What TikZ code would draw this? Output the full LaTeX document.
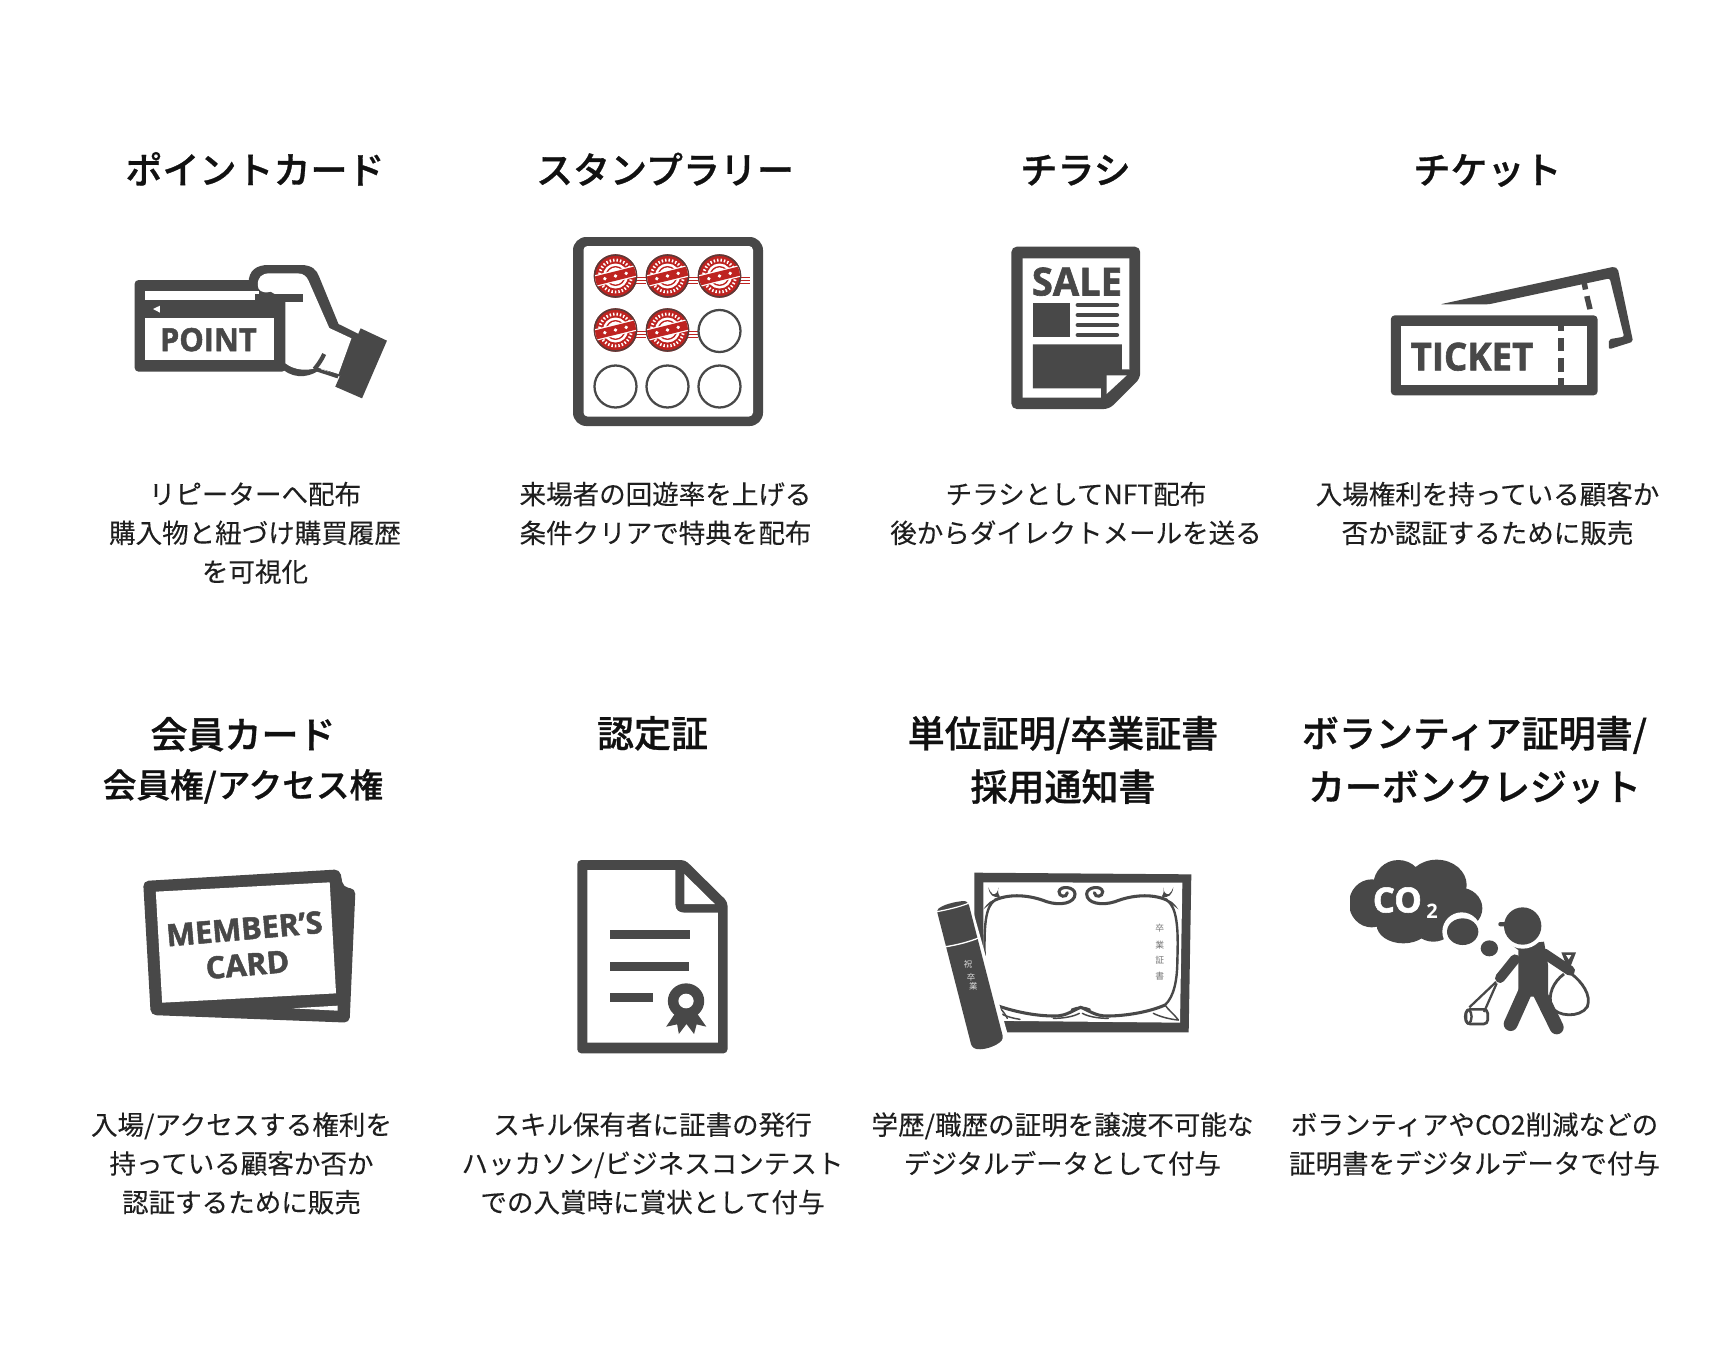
\documentclass[tikz,border=0pt]{standalone}
\usepackage{fontspec}
\usepackage{graphicx}
\newfontfamily\jp[FakeBold=0.12]{Noto Sans CJK JP}
\newfontfamily\jpplain{Noto Sans CJK JP}
\newfontfamily\jpm[FakeBold=0.8]{Noto Sans CJK JP Medium}
\newfontfamily\heavy[UprightFont=* Bold,FakeBold=1.6]{Open Sans}
\newfontfamily\iconbold[UprightFont=* Bold]{Open Sans}
\definecolor{icon}{HTML}{484848}
\definecolor{ink}{HTML}{111111}
\definecolor{body}{HTML}{1F1F1F}
\definecolor{stampred}{HTML}{BE2320}
\definecolor{stamprim}{HTML}{5A3A38}
\tikzset{
  ttl/.style={anchor=north,align=center,inner sep=0pt,text=ink,font=\jpm\fontsize{27.75}{38}\selectfont},
  ttlb/.style={ttl,font=\jpm\fontsize{27.75}{40}\selectfont},
  bodytext/.style={anchor=north,align=center,inner sep=0pt,text=body,font=\jp\fontsize{19.9}{29.1}\selectfont},
  wh/.style={fill=white,draw=none},
  dk/.style={fill=icon,draw=none},
  icontext/.style={inner sep=0pt,text=icon,font=\heavy},
}
\newcommand{\stampmark}[2]{%
  \begin{scope}[shift={(#1,#2)}]
    \foreach \yy in {1.5,4.5,7.5}{\draw[stampred,line width=0.9pt] (18,\yy) -- (30,\yy);}
    \fill[stampred] (0,0) circle (21.7);
    \draw[stamprim,line width=1.2pt] (0,0) circle (21);
    \draw[white,line width=2.2pt,dash pattern=on 1.1pt off 1.5pt] (0,0) circle (16);
    \fill[white] (0,0) circle (12.5);
    \draw[stampred,line width=1pt] (0,0) circle (9.3);
    \begin{scope}
      \clip (0,0) circle (20.5);
      \begin{scope}[rotate=14]
        \fill[white] (-24,-5.8) rectangle (24,5.8);
        \fill[stampred] (-24,-4.6) rectangle (24,4.6);
        \foreach \xx in {-11,0,11}{\fill[white] (\xx,0) circle (1.9);}
      \end{scope}
    \end{scope}
  \end{scope}}
\begin{document}
\begin{tikzpicture}[x=0.75pt,y=-0.75pt]
\path[use as bounding box,fill=white] (0,0) rectangle (1730,1350);

% titles row 1
\node[ttl] (t1) at (255,148) {\strut ポイントカード};
\node[ttl] (t2) at (665,148) {\strut スタンプラリー};
\node[ttl] (t3) at (1075.5,148) {\strut チラシ};
\node[ttl] (t4) at (1487.5,148) {\strut チケット};
% titles row 2
\node[ttl,font=\jpm\fontsize{27.75}{37}\selectfont] (t5) at (243,713.5) {\strut 会員カード\\{\fontsize{25.2}{37}\selectfont 会員権/アクセス権}};
\node[ttl] (t6) at (652.5,711.5) {\strut 認定証};
\node[ttlb] (t7) at (1063,709.7) {\strut 単位証明/卒業証書\\採用通知書};
\node[ttlb] (t8) at (1474.5,709.7) {\strut ボランティア証明書/\\カーボンクレジット};
% body row 1
\node[bodytext] (b1) at (255,481.5) {リピーターへ配布\\購入物と紐づけ購買履歴\\を可視化};
\node[bodytext] (b2) at (665.5,481.5) {来場者の回遊率を上げる\\条件クリアで特典を配布};
\node[bodytext] (b3) at (1076,481.5) {チラシとしてNFT配布\\後からダイレクトメールを送る};
\node[bodytext] (b4) at (1487.5,481.5) {入場権利を持っている顧客か\\否か認証するために販売};
% body row 2
\node[bodytext] (b5) at (241.5,1112) {入場/アクセスする権利を\\持っている顧客か否か\\認証するために販売};
\node[bodytext] (b6) at (652.5,1112) {スキル保有者に証書の発行\\ハッカソン/ビジネスコンテスト\\での入賞時に賞状として付与};
\node[bodytext] (b7) at (1062.5,1112) {学歴/職歴の証明を譲渡不可能な\\デジタルデータとして付与};
\node[bodytext] (b8) at (1474.5,1112) {ボランティアやCO2削減などの\\証明書をデジタルデータで付与};

% ---------- point card
\begin{scope}[shift={(100,220)},x=0.346pt,y=-0.25pt]
  \path[dk] (322,190) .. controls (322,150) and (340,135) .. (365,135) -- (435,135) .. controls (460,135) and (470,150) .. (475,170) -- (517,312) -- (565,345) -- (520,470) -- (480,445) .. controls (460,470) and (425,480) .. (398,450) -- (340,300) -- cycle;
  \path[dk,rounded corners=3pt] (75,180) -- (340,180) -- (400,240) -- (403,455) -- (75,455) -- cycle;
  \path[wh] (98,214) rectangle (345,240);
  \path[wh] (342,195) .. controls (342,172) and (350,160) .. (368,160) -- (428,160) .. controls (442,160) and (448,170) .. (452,182) -- (497,324) -- (545,355) -- (517,462) -- (470,442) .. controls (450,455) and (420,450) .. (402,430) -- (402,240) -- (370,215) .. controls (350,222) and (342,210) .. (342,195) -- cycle;
  \path[dk] (335,222) rectangle (440,245);
  \path[dk] (335,240) rectangle (402,295);
  \draw[icon,line width=3.2pt] (486,402) .. controls (478,425) and (472,435) .. (465,447);
  \draw[icon,line width=2.6pt] (465,447) -- (516,470);
  \path[wh] (115,267) -- (130,257) -- (130,278) -- cycle;
  \path[wh] (98,295) rectangle (377,420);
  \path[dk] (565,325) -- (622,362) -- (568,535) -- (510,500) -- cycle;
  \node[icontext] (pointlabel) at (235,359) {\fontsize{24}{24}\selectfont\scalebox{0.96}[1]{POINT}};
\end{scope}

% ---------- stamp board
\path[dk,rounded corners=10pt] (573,237) rectangle (763,426);
\path[wh,rounded corners=3pt] (583.5,246) rectangle (753,416.5);
\stampmark{615.5}{276}\stampmark{667.5}{276}\stampmark{719.5}{276}
\stampmark{615.5}{330}\stampmark{667.5}{330}
\foreach \cx/\cy in {719.5/331,615.5/386.5,667.5/386.5,719.5/386.5}{
  \draw[icon,line width=1.7pt] (\cx,\cy) circle (21);
}

% ---------- flyer
\begin{scope}[shift={(980,220)},x=0.3365pt,y=-0.25pt]
  \path[dk,rounded corners=4pt] (70,80) -- (357,80) -- (357,475) -- (288,567) -- (70,567) -- cycle;
  \path[wh] (95,115) -- (333,115) -- (333,448) -- (270,533) -- (95,533) -- cycle;
  \path[dk] (118,373) -- (316,373) -- (316,448) -- (333,448) -- (333,470) -- (270,535) -- (270,505) -- (118,505) -- cycle;
  \path[wh] (282,466) -- (327,466) -- (282,522) -- cycle;
  \path[dk] (118,248) rectangle (200,352);
  \foreach \ly in {255,285,315,345}{\draw[icon,line width=3.4pt,line cap=round] (218,\ly) -- (305,\ly);}
  \node[icontext] (salelabel) at (216,185) {\fontsize{28}{28}\selectfont\scalebox{1.02}[1.04]{SALE}};
\end{scope}

% ---------- ticket
\begin{scope}[shift={(978,220)},x=0.3365pt,y=-0.25pt]
  \path[dk,rounded corners=1.5pt] (1030,253) -- (1418,140) -- (1426,146) -- (1460,365) -- (1406,388) -- (1406,358) -- (1440,350) -- (1408,175) -- (1138,253) -- cycle;
  \path[dk] (1345,190) -- (1357,187) -- (1360,207) -- (1348,210) -- cycle;
  \path[dk] (1351,230) -- (1363,227) -- (1370,266) -- (1358,269) -- cycle;
  \path[dk,rounded corners=3pt] (920,286) rectangle (1381,526);
  \path[wh] (943,317) rectangle (1358,495);
  \foreach \da/\db in {317/333,355/392,415/455,475/495}{\path[dk] (1292,\da) rectangle (1307,\db);}
  \node[icontext] (ticketlabel) at (1101,410) {\fontsize{28}{28}\selectfont\scalebox{0.98}[1.03]{TICKET}};
\end{scope}

% ---------- member's card
\begin{scope}[shift={(119,840)},x=0.3173pt,y=-0.25pt]
  \path[dk,rounded corners=4pt] (57,123) -- (522,88) -- (530,142) -- (559,146) -- (545,548) -- (75,525) -- cycle;
  \path[wh] (87,155) -- (498,127) -- (513,460) -- (102,488) -- cycle;
  \path[wh] (410,505) -- (517,497) -- (517,512) -- cycle;
  \node[icontext,rotate=5,align=center,font=\heavy\fontsize{23}{27}\selectfont] (memberlabel) at (300,320) {MEMBER’S\\CARD};
\end{scope}

% ---------- certificate
\begin{scope}[shift={(117,840)},x=0.3173pt,y=-0.25pt]
  \path[dk,rounded corners=3pt] (1088,60) -- (1343,60) -- (1443,185) -- (1443,640) -- (1088,640) -- cycle;
  \path[wh] (1112,90) -- (1320,90) -- (1320,195) .. controls (1320,210) and (1328,218) .. (1342,218) -- (1420,218) -- (1420,608) -- (1112,608) -- cycle;
  \path[wh] (1341,102) -- (1413,192) -- (1341,192) -- cycle;
  \path[dk] (1165,270) rectangle (1355,297);
  \path[dk] (1165,365) rectangle (1353,392);
  \path[dk] (1165,460) rectangle (1267,487);
  \path[dk] (1322,515) -- (1298,560) -- (1324,553) -- (1328,582) -- (1346,552) -- (1364,582) -- (1370,553) -- (1393,560) -- (1368,515) -- cycle;
  \path[dk] (1345,483) ellipse [x radius=43,y radius=53];
  \path[wh] (1345,483) ellipse [x radius=18,y radius=22];
\end{scope}

% ---------- diploma
\begin{scope}[shift={(920,850)},x=0.25pt,y=-0.25pt]
  \path[dk] (163,68) -- (814,73) -- (806,547) -- (240,547) -- (163,400) -- cycle;
  \path[wh] (190,97) -- (787,98) -- (780,518) -- (190,512) -- cycle;
  \begin{scope}[icon,line width=2.3pt,line cap=round]
    \draw[line width=1.8pt] (194,330) .. controls (192,230) and (195,170) .. (225,150);
    \draw (225,150) .. controls (270,130) and (330,135) .. (380,155) .. controls (420,168) and (465,160) .. (465,132) .. controls (465,110) and (420,105) .. (417,125) .. controls (416,140) and (440,145) .. (442,128);
    \draw[line width=1.8pt] (772,330) .. controls (776,230) and (770,170) .. (740,150);
    \draw (740,150) .. controls (695,130) and (635,135) .. (585,155) .. controls (545,168) and (500,160) .. (500,132) .. controls (500,110) and (545,105) .. (548,125) .. controls (549,140) and (525,145) .. (523,128);
    \draw[line width=1.8pt] (772,330) .. controls (772,390) and (762,440) .. (735,465);
    \draw (735,465) .. controls (690,485) and (620,498) .. (560,498) .. controls (525,498) and (505,480) .. (482,472) .. controls (460,480) and (440,498) .. (405,498) .. controls (345,498) and (285,485) .. (235,468);
    \path[dk] (205,112) .. controls (208,135) and (220,145) .. (240,140) .. controls (233,130) and (233,120) .. (235,112) .. controls (235,125) and (228,135) .. (218,132) .. controls (212,128) and (208,120) .. (205,112) -- cycle;
    \path[dk] (760,112) .. controls (757,135) and (745,145) .. (725,140) .. controls (732,130) and (732,120) .. (730,112) .. controls (730,125) and (737,135) .. (747,132) .. controls (753,128) and (757,120) .. (760,112) -- cycle;
    \path[dk] (190,178) .. controls (205,155) and (215,150) .. (232,146) -- (225,155) .. controls (212,160) and (200,170) .. (190,178) -- cycle;
    \path[dk] (775,178) .. controls (760,155) and (750,150) .. (733,146) -- (740,155) .. controls (753,160) and (765,170) .. (775,178) -- cycle;
    \draw[line width=1.1pt] (240,490) .. controls (260,500) and (280,505) .. (300,508);
    \draw[line width=1.1pt] (235,468) .. controls (245,480) and (255,490) .. (262,505);
    \draw[line width=1.1pt] (735,465) .. controls (745,480) and (760,490) .. (775,510);
    \draw[line width=1.1pt] (700,490) .. controls (720,500) and (750,508) .. (775,510);
    \draw[line width=1.1pt] (400,505) .. controls (430,505) and (460,500) .. (478,490);
    \draw[line width=1.1pt] (565,505) .. controls (535,505) and (505,500) .. (487,490);
    \draw[line width=1.2pt] (455,478) .. controls (470,470) and (495,470) .. (510,478);
  \end{scope}
  \foreach \nm/\ty/\tx in {dp1/235/卒,dp2/285/業,dp3/332/証,dp4/378/書}{
    \node[inner sep=0pt,text=icon!75,font=\jpplain\fontsize{6.6}{7}\selectfont] (\nm) at (719,\ty) {\tx};
  }
  \path[wh] (35,180) -- (150,150) -- (265,560) -- (150,600) -- cycle;
  \path[dk,rounded corners=2pt] (50,180) .. controls (75,160) and (130,150) .. (145,158) -- (250,565) .. controls (230,590) and (180,605) .. (155,590) -- cycle;
  \draw[white,line width=0.9pt] (50,185) .. controls (80,180) and (120,170) .. (145,160);
  \draw[white,line width=1pt] (78,290) .. controls (110,285) and (150,275) .. (180,262);
  \foreach \nm/\ta/\tb/\tx in {dt1/144/342/祝,dt2/153/383/卒,dt3/160/410/業}{
    \node[inner sep=0pt,text=white!80!icon,font=\jpplain\fontsize{6.3}{7}\selectfont] (\nm) at (\ta,\tb) {\tx};
  }
\end{scope}

% ---------- CO2 person
\begin{scope}[shift={(1340,850)},x=0.25pt,y=-0.25pt]
  \begin{scope}
    \clip (30,0) rectangle (430,300);
    \path[dk] (95,160) ellipse [x radius=68,y radius=72];
    \path[dk] (175,105) ellipse [x radius=75,y radius=75];
    \path[dk] (290,105) ellipse [x radius=90,y radius=76];
    \path[dk] (360,175) ellipse [x radius=67,y radius=62];
    \path[dk] (190,225) ellipse [x radius=80,y radius=55];
    \path[dk] (280,225) ellipse [x radius=60,y radius=50];
    \path[dk] (220,160) ellipse [x radius=120,y radius=80];
  \end{scope}
  \path[wh] (365,245) ellipse [x radius=58,y radius=58];
  \path[dk] (368,245) ellipse [x radius=47,y radius=40];
  \path[dk] (448,295) ellipse [x radius=26,y radius=24];
  \node[inner sep=0pt,text=white,font=\heavy] (colabel) at (172,150) {\fontsize{26}{26}\selectfont CO};
  \node[inner sep=0pt,text=white,font=\iconbold] (twolabel) at (276,183) {\fontsize{15}{15}\selectfont 2};
  % body
  \path[dk] (515,285) -- (612,275) -- (624,345) -- (624,440) -- (575,440) -- (535,430) -- (535,300) -- cycle;
  \draw[icon,line width=7.5pt,line cap=round] (525,328) -- (480,384);
  \draw[icon,line width=7.5pt,line cap=round] (612,310) -- (690,362);
  \draw[icon,line width=10.5pt,line cap=round] (560,415) -- (512,522);
  \draw[icon,line width=10.5pt,line cap=round] (595,420) -- (650,532);
  \path[wh] (548,228) circle (68);
  \path[dk] (548,228) circle (56);
  \path[dk,rounded corners=1.5pt] (475,216) rectangle (505,229);
  % picker
  \draw[icon,line width=1.7pt] (468,396) -- (388,472);
  \draw[icon,line width=1.7pt] (470,400) -- (432,486);
  \draw[icon,line width=2pt,rounded corners=3pt] (378,478) rectangle (443,522);
  \draw[icon,line width=1.8pt] (385,478) .. controls (372,485) and (372,515) .. (385,522);
  \draw[icon,line width=1.8pt] (385,478) .. controls (398,485) and (398,515) .. (385,522);
  % bag
  \draw[icon,line width=2.1pt] (672,372) .. controls (640,395) and (622,435) .. (635,470) .. controls (650,500) and (720,505) .. (742,470) .. controls (755,435) and (725,395) .. (695,372);
  \path[dk] (664,307) -- (708,307) -- (692,348) -- (680,348) -- cycle;
  \path[wh] (678,315) -- (694,315) -- (686,328) -- cycle;
\end{scope}
\end{tikzpicture}
\end{document}
